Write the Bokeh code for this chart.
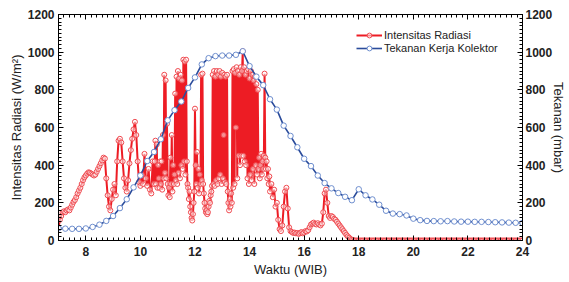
import numpy as np
from bokeh.plotting import figure
from bokeh.models import Range1d, LinearAxis, SingleIntervalTicker
from bokeh.embed import file_html
from bokeh.resources import INLINE

# Intensitas Radiasi (W/m2)
# segment A: every 0.05 h from 07:00 to 10:27
rad_a_start, rad_a_step = 7.0, 0.05
rad_a = [
    65, 110, 130, 150, 155, 150, 160, 165, 160, 175, 190, 205, 215, 230, 250, 265, 280, 300, 320, 335,   # 7
    345, 355, 362, 360, 355, 350, 345, 350, 365, 380, 395, 410, 425, 440, 435, 330, 240, 180, 160, 220,  # 8
    270, 300, 240, 420, 530, 540, 520, 420, 330, 280, 260, 320, 410, 480, 540, 590, 630, 560, 420, 310,  # 9
    290, 350, 300, 460, 330, 290, 380, 270, 250, 420,                                                    # 10.00-10.45
]
# segment B: every 0.025 h from 10:30 to 14:43.5 (fluctuating clouds)
rad_b_start, rad_b_step = 10.5, 0.025
rad_b = [
    300, 420, 530, 300, 510, 280, 400, 330, 280, 420,   # 10.50
    300, 420, 270, 560, 330, 880, 360, 850, 330, 620,   # 10.75
    300, 240, 280, 230, 440, 300, 560, 260, 400, 300,   # 11.00
    350, 780, 320, 870, 300, 900, 360, 860, 330, 880,   # 11.25
    400, 850, 380, 960, 420, 950, 350, 960, 420, 300,   # 11.50
    280, 220, 260, 180, 150, 120, 106, 140, 200, 260,   # 11.75
    700, 400, 300, 470, 280, 380, 250, 350, 300, 880,   # 12.00
    320, 886, 300, 250, 200, 170, 150, 160, 140, 150,   # 12.25
    180, 210, 200, 240, 260, 290, 880, 300, 900, 290,   # 12.50
    870, 320, 900, 300, 880, 330, 900, 350, 870, 300,   # 12.75
    890, 330, 560, 880, 310, 870, 300, 880, 260, 200,   # 13.00
    160, 220, 180, 250, 200, 900, 280, 910, 300, 890,   # 13.25
    600, 920, 330, 900, 450, 880, 400, 920, 450, 900,   # 13.50
    1005, 450, 920, 420, 880, 400, 900, 330, 910, 300,  # 13.75
    860, 350, 900, 320, 880, 380, 850, 300, 870, 400,   # 14.00
    830, 350, 800, 380, 440, 330, 400, 460, 350, 420,   # 14.25
    380, 450, 886, 440, 380, 420, 330, 380, 300, 340,   # 14.50
]
# segment C: every 0.05 h from 14:45 to 24:00
rad_c_start, rad_c_step = 14.75, 0.05
rad_c = [
    260, 300, 230, 270, 180,                                                                             # 14.75
    200, 110, 60, 50, 80, 180, 260, 280, 170, 70, 50, 45, 40, 42, 38, 40, 35, 40, 45, 38,                # 15
    42, 50, 48, 55, 70, 85, 90, 95, 88, 85, 92, 85, 80, 90, 150, 250, 270, 200, 130, 120,                # 16
    130, 125, 115, 110, 100, 90, 80, 70, 60, 50, 40, 30, 22, 15, 8, 4, 2, 0, 0, 0,                       # 17
    0, 0, 0, 0, 0, 0, 0, 0, 0, 0, 0, 0, 0, 0, 0, 0, 0, 0, 0, 0,                                          # 18
    0, 0, 0, 0, 0, 0, 0, 0, 0, 0, 0, 0, 0, 0, 0, 0, 0, 0, 0, 0,                                          # 19
    0, 0, 0, 0, 0, 0, 0, 0, 0, 0, 0, 0, 0, 0, 0, 0, 0, 0, 0, 0,                                          # 20
    0, 0, 0, 0, 0, 0, 0, 0, 0, 0, 0, 0, 0, 0, 0, 0, 0, 0, 0, 0,                                          # 21
    0, 0, 0, 0, 0, 0, 0, 0, 0, 0, 0, 0, 0, 0, 0, 0, 0, 0, 0, 0,                                          # 22
    0, 0, 0, 0, 0, 0, 0, 0, 0, 0, 0, 0, 0, 0, 0, 0, 0, 0, 0, 0,                                          # 23
    0,                                                                                                   # 24
]

# Tekanan Kerja Kolektor (mbar), sampled every 0.25 h from 07:00
press_start, press_step = 7.0, 0.25
press_value = [
    65, 63, 62, 62,        # 7
    64, 72, 84, 104,       # 8
    130, 172, 219, 282,    # 9
    345, 422, 470, 538,    # 10
    638, 692, 738, 810,    # 11
    866, 935, 968, 979,    # 12
    982, 982, 986, 1005,   # 13
    926, 870, 825, 750,    # 14
    695, 610, 555, 495,    # 15
    434, 395, 345, 305,    # 16
    277, 252, 232, 214,    # 17
    272, 240, 218, 190,    # 18
    158, 143, 140, 133,    # 19
    116, 108, 104, 103,    # 20
    102, 103, 101, 100,    # 21
    100, 99, 99, 98,       # 22
    97, 96, 95, 94,        # 23
    93,                    # 24
]

rad_time = np.concatenate([
    rad_a_start + rad_a_step * np.arange(len(rad_a)),
    rad_b_start + rad_b_step * np.arange(len(rad_b)),
    rad_c_start + rad_c_step * np.arange(len(rad_c)),
])
rad_value = rad_a + rad_b + rad_c
press_time = press_start + press_step * np.arange(len(press_value))

x_label = "Waktu (WIB)"
y_label = "Intensitas Radiasi (W/m\u00b2)"
y2_label = "Tekanan (mbar)"
series_names = ["Intensitas Radiasi", "Tekanan Kerja Kolektor"]

FONT = "Liberation Sans"
RED = "#ed1c24"
RED_MK = "#f04a50"
BLUE = "#2b4c9b"
BLUE_MK = "#6f8fcf"

p = figure(width=569, height=282, x_range=Range1d(7, 24), y_range=Range1d(0, 1200),
           output_backend="svg", toolbar_location=None,
           min_border_left=58, min_border_right=47, min_border_top=14, min_border_bottom=42)
p.extra_y_ranges = {"press": Range1d(0, 1200)}
p.grid.visible = False
p.outline_line_color = "black"
p.outline_line_width = 1
p.background_fill_color = "white"
p.border_fill_color = "white"


def style_axis(ax, show_labels=True):
    ax.axis_line_color = "black"
    ax.major_tick_in = 5
    ax.major_tick_out = 0
    ax.minor_tick_in = 3
    ax.minor_tick_out = 0
    ax.major_tick_line_color = "black"
    ax.minor_tick_line_color = "black"
    ax.major_label_text_font = FONT
    ax.major_label_text_font_style = "bold"
    ax.axis_label_text_font = FONT
    ax.axis_label_text_font_style = "normal"
    ax.axis_label_text_font_size = "13px"
    ax.axis_label_text_color = "#222222"
    if show_labels:
        ax.major_label_text_font_size = "12px"
        ax.major_label_text_color = "#222222"
    else:
        ax.major_label_text_font_size = "1px"
        ax.major_label_text_color = None
        ax.major_label_standoff = 0


p.xaxis[0].ticker = SingleIntervalTicker(interval=2, num_minor_ticks=10)
p.xaxis[0].axis_label = x_label
style_axis(p.xaxis[0])
p.xaxis[0].major_label_standoff = 6
p.xaxis[0].axis_label_standoff = 3

p.yaxis[0].ticker = SingleIntervalTicker(interval=200, num_minor_ticks=10)
p.yaxis[0].axis_label = y_label
style_axis(p.yaxis[0])
p.yaxis[0].major_label_standoff = 4
p.yaxis[0].axis_label_standoff = 1

right = LinearAxis(y_range_name="press", ticker=SingleIntervalTicker(interval=200, num_minor_ticks=10),
                   axis_label=y2_label)
style_axis(right)
right.major_label_standoff = 3
right.axis_label_standoff = -4
p.add_layout(right, "right")

top = LinearAxis(ticker=SingleIntervalTicker(interval=2, num_minor_ticks=10))
style_axis(top, show_labels=False)
p.add_layout(top, "above")

p.line(rad_time, rad_value, color=RED, line_width=2, legend_label=series_names[0])
p.scatter(rad_time, rad_value, marker="circle", size=5, line_color=RED_MK, line_width=1,
          fill_color="white", fill_alpha=0.5, legend_label=series_names[0])

p.line(press_time, press_value, color=BLUE, line_width=1.6, y_range_name="press",
       legend_label=series_names[1])
p.scatter(press_time, press_value, marker="circle", size=5.5, line_color=BLUE_MK, line_width=1,
          fill_color="white", y_range_name="press", legend_label=series_names[1])

lg = p.legend[0]
lg.location = (298, 186)
lg.border_line_color = None
lg.background_fill_alpha = 0
lg.padding = 0
lg.margin = 0
lg.spacing = 1
lg.glyph_width = 26
lg.glyph_height = 12
lg.label_height = 12
lg.label_standoff = 2
lg.label_text_font = FONT
lg.label_text_font_size = "11px"
lg.label_text_color = "#222222"

open("out.html", "w").write(file_html(p, INLINE))
